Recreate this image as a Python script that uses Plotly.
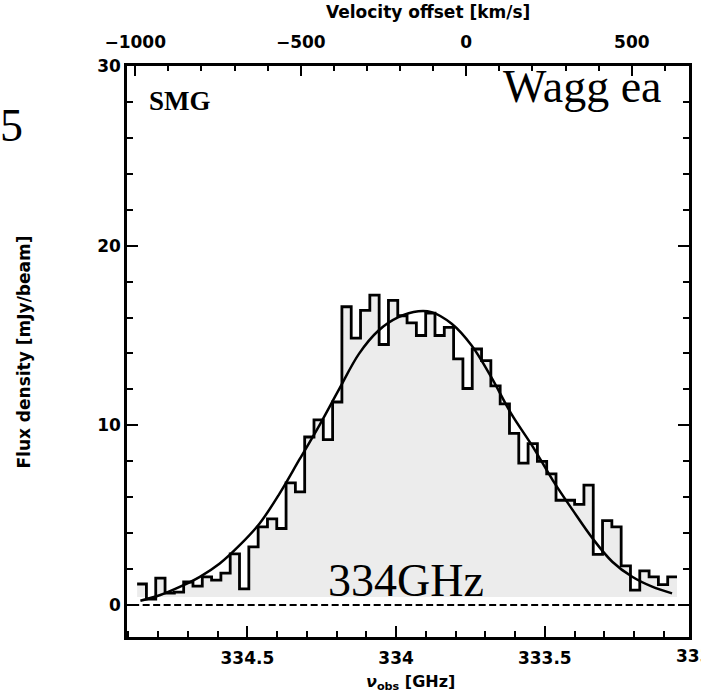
import plotly.graph_objects as go

# ---------------- data ----------------
C_KMS = 299792.458          # speed of light [km/s]
F0_GHZ = 333.764            # frequency of zero velocity offset [GHz]

# channel centres [GHz] and flux density per channel [mJy/beam]
freq_ghz = [334.8553, 334.8240, 334.7927, 334.7614, 334.7301, 334.6988, 334.6675, 334.6362,
            334.6049, 334.5736, 334.5423, 334.5110, 334.4796, 334.4483, 334.4170, 334.3857,
            334.3544, 334.3231, 334.2918, 334.2605, 334.2292, 334.1979, 334.1666, 334.1353,
            334.1040, 334.0727, 334.0414, 334.0101, 333.9788, 333.9475, 333.9162, 333.8849,
            333.8536, 333.8223, 333.7910, 333.7597, 333.7283, 333.6970, 333.6657, 333.6344,
            333.6031, 333.5718, 333.5405, 333.5092, 333.4779, 333.4466, 333.4153, 333.3840,
            333.3527, 333.3214, 333.2901, 333.2588, 333.2275, 333.1962, 333.1649, 333.1336,
            333.1023, 333.0710]
flux_mjy = [1.17, 0.33, 1.50, 0.67, 0.72, 1.28, 1.05, 1.57,
            1.39, 1.78, 2.85, 0.90, 3.24, 4.35, 4.80, 4.26,
            6.80, 6.30, 9.35, 10.30, 9.20, 11.30, 16.60, 14.85,
            16.40, 17.25, 14.50, 16.95, 16.10, 15.70, 15.00, 16.25,
            15.00, 15.45, 13.70, 12.05, 14.25, 13.60, 12.20, 11.20,
            9.55, 7.90, 8.98, 8.00, 7.30, 5.83, 5.83, 5.60,
            6.67, 2.82, 4.70, 4.35, 2.18, 0.83, 1.90, 1.57,
            1.13, 1.57]

# Gaussian fit curve
fit_freq_ghz = [334.860, 334.793, 334.726, 334.660, 334.593, 334.526, 334.459, 334.392,
                334.325, 334.258, 334.192, 334.125, 334.059, 333.992, 333.925, 333.881,
                333.813, 333.746, 333.680, 333.613, 333.540, 333.473, 333.406, 333.339,
                333.273, 333.206, 333.139, 333.072]
fit_flux_mjy = [0.24, 0.56, 1.02, 1.57, 2.31, 3.33, 4.54, 6.20,
                8.10, 10.00, 12.00, 13.98, 15.28, 16.02, 16.35, 16.30,
                15.65, 14.44, 12.68, 10.65, 8.80, 6.94, 5.28, 3.70,
                2.41, 1.57, 1.02, 0.65]

x_tick_labels = ["334.5", "334", "333.5"]
x_tick_vals = [334.5, 334.0, 333.5]
x_cut_label = "333"
vel_tick_vals = [-1000, -500, 0, 500]
vel_tick_labels = ["\u22121000", "\u2212500", "0", "500"]
y_tick_vals = [0, 10, 20, 30]

# ---------------- layout geometry ----------------
W, H = 701, 698
L, R, T, B = 127, 9, 66, 61
PW, PH = W - L - R, H - T - B
X_RANGE = [334.905, 333.015]
Y_RANGE = [-1.78, 30.0]
FILL_BASE = 0.45


def v_of_f(f):
    return C_KMS * (F0_GHZ - f) / F0_GHZ


V_RANGE = [v_of_f(X_RANGE[0]), v_of_f(X_RANGE[1])]


def px(xp):
    return (xp - L) / PW


def py(yp):
    return (H - B - yp) / PH


# histogram step edges derived from channel centres
half = abs(freq_ghz[1] - freq_ghz[0]) / 2.0
edges = [f + half for f in freq_ghz] + [freq_ghz[-1] - half]
step_y = flux_mjy + [flux_mjy[-1]]

TICKFONT = dict(family="DejaVu Sans", size=17, color="black", weight="bold")
SERIF = "Liberation Serif"

fig = go.Figure()

# fill baseline (invisible)
fig.add_trace(go.Scatter(x=[edges[0], edges[-1]], y=[FILL_BASE, FILL_BASE],
                         mode="lines", line=dict(width=0, color="rgba(0,0,0,0)"),
                         hoverinfo="skip", showlegend=False))
# spectrum histogram
fig.add_trace(go.Scatter(x=edges, y=step_y, mode="lines", line_shape="hv",
                         fill="tonexty", fillcolor="#ececec",
                         line=dict(color="black", width=2.8),
                         showlegend=False))
# zero level (dashed), drawn against the velocity axis
fig.add_trace(go.Scatter(x=[v_of_f(edges[0]) - 15, v_of_f(edges[-1])], y=[0, 0],
                         xaxis="x2", yaxis="y", mode="lines",
                         line=dict(color="black", width=2.2, dash="7px,3.5px"),
                         showlegend=False))
# Gaussian fit
fig.add_trace(go.Scatter(x=fit_freq_ghz, y=fit_flux_mjy, mode="lines",
                         line=dict(color="black", width=2.5, shape="spline", smoothing=1.0),
                         showlegend=False))

ann = []
ann.append(dict(text="Velocity offset [km/s]", x=px(430), y=py(12), xref="paper", yref="paper",
                showarrow=False, xanchor="center", yanchor="middle",
                font=dict(family="DejaVu Sans", size=17, color="black", weight="bold")))
ann.append(dict(text="<i>\u03bd</i><sub>obs</sub> [GHz]", x=px(412), y=py(682), xref="paper", yref="paper",
                showarrow=False, xanchor="center", yanchor="middle",
                font=dict(family="DejaVu Sans", size=16, color="black", weight="bold")))
ann.append(dict(text="Flux density [mJy/beam]", x=px(23), y=py(352), xref="paper", yref="paper",
                showarrow=False, xanchor="center", yanchor="middle", textangle=-90,
                font=dict(family="DejaVu Sans", size=17, color="black", weight="bold")))
ann.append(dict(text=x_cut_label, x=px(697), y=py(656), xref="paper", yref="paper",
                showarrow=False, xanchor="center", yanchor="middle", font=TICKFONT))
ann.append(dict(text="<b>SMG</b>", x=px(147), y=py(101), xref="paper", yref="paper",
                showarrow=False, xanchor="left", yanchor="middle",
                font=dict(family=SERIF, size=27, color="black")))
ann.append(dict(text="Wagg ea", x=px(584), y=py(86), xref="paper", yref="paper",
                showarrow=False, xanchor="center", yanchor="middle",
                font=dict(family=SERIF, size=46, color="black")))
ann.append(dict(text="334GHz", x=px(407), y=py(580), xref="paper", yref="paper",
                showarrow=False, xanchor="center", yanchor="middle",
                font=dict(family=SERIF, size=46, color="black")))
ann.append(dict(text="5", x=px(11), y=py(126), xref="paper", yref="paper",
                showarrow=False, xanchor="center", yanchor="middle",
                font=dict(family=SERIF, size=46, color="black")))

fig.update_layout(
    width=W, height=H,
    margin=dict(l=L, r=R, t=T, b=B, pad=0),
    paper_bgcolor="white", plot_bgcolor="white",
    showlegend=False,
    annotations=ann,
    xaxis=dict(range=X_RANGE, tickmode="array", tickvals=x_tick_vals, ticktext=x_tick_labels,
               ticks="inside", ticklen=11, tickwidth=2, tickcolor="black",
               minor=dict(ticks="inside", ticklen=6, tickwidth=2, tickcolor="black",
                          tickmode="linear", tick0=334.0, dtick=0.1),
               showline=True, linewidth=2.5, linecolor="black", mirror=False,
               showgrid=False, zeroline=False, tickfont=TICKFONT, ticklabelstandoff=4),
    xaxis2=dict(range=V_RANGE, overlaying="x", side="top", anchor="y",
                tickmode="array", tickvals=vel_tick_vals, ticktext=vel_tick_labels,
                ticks="inside", ticklen=10, tickwidth=2, tickcolor="black",
                minor=dict(ticks="inside", ticklen=5, tickwidth=2, tickcolor="black",
                           tickmode="linear", tick0=0, dtick=100),
                showline=True, linewidth=2.5, linecolor="black",
                showgrid=False, zeroline=False, tickfont=TICKFONT, ticklabelstandoff=8),
    yaxis=dict(range=Y_RANGE, tickmode="array", tickvals=y_tick_vals,
               ticks="inside", ticklen=11, tickwidth=2, tickcolor="black",
               minor=dict(ticks="inside", ticklen=6, tickwidth=2, tickcolor="black",
                          tickmode="linear", tick0=0, dtick=2),
               showline=True, linewidth=2.5, linecolor="black", mirror="ticks",
               showgrid=False, zeroline=False, tickfont=TICKFONT, ticklabelstandoff=0),
)

fig.write_html("out.html")
